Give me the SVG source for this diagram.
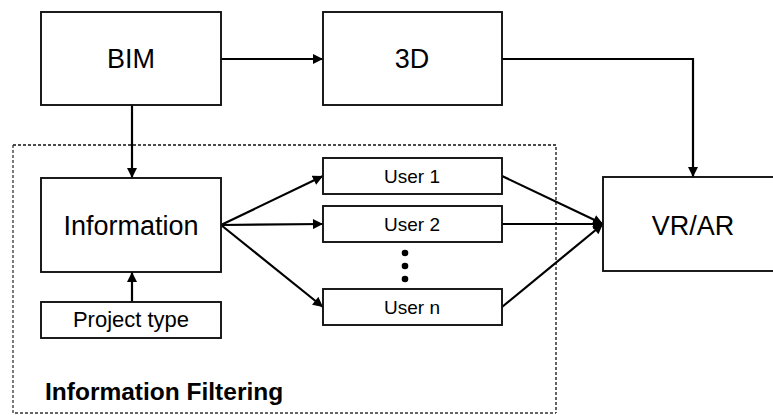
<svg xmlns="http://www.w3.org/2000/svg" width="773" height="415" viewBox="0 0 773 415">
<style>
.box{fill:#fff;stroke:#111;stroke-width:1.9}
.t{font-family:"Liberation Sans",Arial,sans-serif;fill:#000;text-anchor:middle}
.big{font-size:27px}
.sm{font-size:19px}
.md{font-size:22px}
.ln{fill:none;stroke:#000;stroke-width:2.2}
</style>
<defs>
<marker id="ah" viewBox="0 0 10 10" refX="10" refY="5" markerWidth="11" markerHeight="10" markerUnits="userSpaceOnUse" orient="auto">
<path d="M0,0 L10,5 L0,10 Z" fill="#000"/>
</marker>
</defs>
<rect width="773" height="415" fill="#fff"/>
<g id="filter-region">
<path d="M13,145 H556 V413" fill="none" stroke="#111" stroke-width="1.3" stroke-dasharray="3,2"/>
<path d="M13,145 V413 H556" fill="none" stroke="#333" stroke-width="1.3" stroke-dasharray="3,2"/>
<text x="45" y="400" font-family="'Liberation Sans',Arial,sans-serif" font-weight="bold" font-size="24.5" fill="#000">Information Filtering</text>
</g>
<g id="connectors">
<line class="ln" x1="221" y1="59" x2="323" y2="59" marker-end="url(#ah)"/>
<polyline class="ln" points="502,59 693,59 693,177" marker-end="url(#ah)"/>
<line class="ln" x1="132" y1="105" x2="132" y2="178" marker-end="url(#ah)"/>
<line class="ln" x1="132" y1="302" x2="132" y2="272" marker-end="url(#ah)"/>
<line class="ln" x1="221" y1="225" x2="323" y2="176" marker-end="url(#ah)"/>
<line class="ln" x1="221" y1="225" x2="323" y2="224" marker-end="url(#ah)"/>
<line class="ln" x1="221" y1="225" x2="323" y2="307" marker-end="url(#ah)"/>
<line class="ln" x1="502" y1="176" x2="603" y2="224" marker-end="url(#ah)"/>
<line class="ln" x1="502" y1="224" x2="603" y2="224" marker-end="url(#ah)"/>
<line class="ln" x1="502" y1="307" x2="603" y2="224" marker-end="url(#ah)"/>
</g>
<g id="bim"><rect class="box" x="41" y="12" width="180" height="93"/><text class="t big" x="131" y="68">BIM</text></g>
<g id="three-d"><rect class="box" x="323" y="12" width="179" height="93"/><text class="t big" x="412" y="68">3D</text></g>
<g id="vr-ar"><rect class="box" x="603" y="177" width="185" height="94"/><text class="t big" x="693" y="235">VR/AR</text></g>
<g id="information"><rect class="box" x="41" y="178" width="180" height="94"/><text class="t big" x="131" y="235">Information</text></g>
<g id="project-type"><rect class="box" x="41" y="302" width="180" height="36"/><text class="t md" x="131" y="327">Project type</text></g>
<g id="user-1"><rect class="box" x="323" y="158" width="179" height="36"/><text class="t sm" x="412" y="183">User 1</text></g>
<g id="user-2"><rect class="box" x="323" y="206" width="179" height="36"/><text class="t sm" x="412" y="231">User 2</text></g>
<g id="user-n"><rect class="box" x="323" y="289" width="179" height="36"/><text class="t sm" x="412" y="314">User n</text></g>
<g id="ellipsis" fill="#000">
<circle cx="405" cy="253" r="3.3"/><circle cx="405" cy="266" r="3.3"/><circle cx="405" cy="279" r="3.3"/>
</g>
</svg>
